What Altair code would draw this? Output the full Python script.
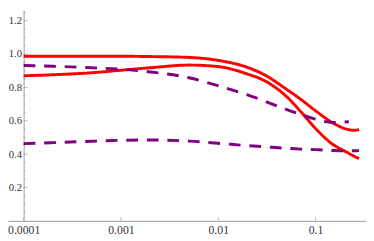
import altair as alt
import pandas as pd

# ---- data ----
x_main = [0.0001, 0.0002, 0.0005, 0.001, 0.002, 0.005, 0.01, 0.02, 0.03,
          0.05, 0.07, 0.1, 0.15, 0.2, 0.25, 0.28]
red_a = [0.987, 0.987, 0.987, 0.987, 0.985, 0.980, 0.962, 0.920, 0.875,
         0.790, 0.730, 0.660, 0.588, 0.553, 0.543, 0.548]
red_b = [0.870, 0.876, 0.888, 0.903, 0.918, 0.934, 0.925, 0.880, 0.840,
         0.747, 0.657, 0.554, 0.459, 0.418, 0.387, 0.373]
x_c = [0.0001, 0.0002, 0.0005, 0.001, 0.002, 0.005, 0.01, 0.02, 0.03,
       0.05, 0.07, 0.1, 0.15, 0.22]
purple_c = [0.932, 0.927, 0.918, 0.909, 0.893, 0.858, 0.810, 0.755, 0.718,
            0.668, 0.638, 0.610, 0.590, 0.594]
purple_d = [0.463, 0.469, 0.477, 0.483, 0.485, 0.478, 0.465, 0.451, 0.444,
            0.435, 0.430, 0.427, 0.422, 0.420, 0.420, 0.421]

x_major = [0.0001, 0.001, 0.01, 0.1]
y_major = [0.2, 0.4, 0.6, 0.8, 1.0, 1.2]
y_minor = [0.05, 0.1, 0.15, 0.25, 0.3, 0.35, 0.45, 0.5, 0.55, 0.65, 0.7, 0.75,
           0.85, 0.9, 0.95, 1.05, 1.1, 1.15, 1.25]

series_names = ["a_red", "b_red", "c_purple", "d_purple"]
series_colors = ["#ff0000", "#ff0000", "#800080", "#800080"]
series_dash = [[1, 0], [1, 0], [12, 9], [12, 9]]

rows = []
for name, xs, ys in [("a_red", x_main, red_a), ("b_red", x_main, red_b),
                     ("c_purple", x_c, purple_c), ("d_purple", x_main, purple_d)]:
    for xv, yv in zip(xs, ys):
        rows.append({"series": name, "x": xv, "y": yv})
df = pd.DataFrame(rows)

FONT = "Liberation Serif"
AXC = "#9a9a9a"
LBC = "#333333"

xscale = alt.Scale(type="log", domain=[6.905e-5, 0.3301], nice=False)
yscale = alt.Scale(domain=[0, 1.261], nice=False, zero=False)

x_axis = alt.Axis(values=x_major, format="~g", grid=False, ticks=False,
                  domainColor=AXC, domainWidth=1, labelFont=FONT,
                  labelFontSize=12, labelColor=LBC, labelPadding=4,
                  labelFlush=False, labelOverlap=False)
y_axis = alt.Axis(values=y_major, format=".1f", grid=False, ticks=False,
                  offset=-16, domainColor=AXC, domainWidth=1,
                  labelFont=FONT, labelFontSize=11, labelColor=LBC,
                  labelPadding=2, labelOverlap=False)

lines = alt.Chart(df).mark_line(strokeWidth=3, interpolate="monotone").encode(
    x=alt.X("x:Q", scale=xscale, title=None, axis=x_axis),
    y=alt.Y("y:Q", scale=yscale, title=None, axis=y_axis),
    color=alt.Color("series:N", scale=alt.Scale(domain=series_names, range=series_colors),
                    legend=None),
    strokeDash=alt.StrokeDash("series:N",
                              scale=alt.Scale(domain=series_names, range=series_dash),
                              legend=None),
    detail="series:N",
)

xt = pd.DataFrame({"v": x_major})
x_ticks = alt.Chart(xt).mark_tick(orient="vertical", size=4, thickness=1,
                                  yOffset=-2, color=AXC).encode(
    x=alt.X("v:Q", scale=xscale, title=None, axis=x_axis),
    y=alt.datum(0),
)

ytm = pd.DataFrame({"v": y_major})
y_ticks = alt.Chart(ytm).mark_tick(orient="horizontal", size=4, thickness=1,
                                   xOffset=2, color=AXC).encode(
    x=alt.datum(0.0001),
    y=alt.Y("v:Q", scale=yscale, title=None, axis=y_axis),
)

ytn = pd.DataFrame({"v": y_minor})
y_mticks = alt.Chart(ytn).mark_tick(orient="horizontal", size=2, thickness=1,
                                    xOffset=1, color=AXC).encode(
    x=alt.datum(0.0001),
    y=alt.Y("v:Q", scale=yscale, title=None, axis=y_axis),
)

chart = alt.layer(lines, x_ticks, y_ticks, y_mticks).properties(
    width=366, height=215,
    autosize=alt.AutoSizeParams(type="none"),
    padding={"left": 0, "top": 0, "right": 0, "bottom": 18},
    background="white",
).configure_view(stroke=None)

chart.save("out.html", embed_options={"renderer": "svg", "actions": False})
